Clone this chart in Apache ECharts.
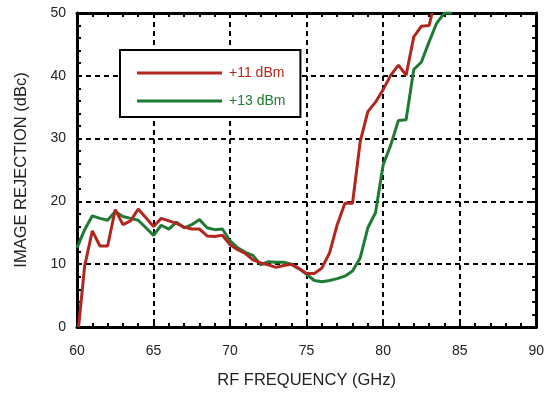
<!DOCTYPE html>
<html>
<head>
<meta charset="utf-8">
<script src="https://cdn.jsdelivr.net/npm/echarts@6/dist/echarts.min.js"></script>
<style>
html,body{margin:0;padding:0;background:#fff;}
#c{width:547px;height:394px;}
</style>
</head>
<body>
<div id="c"></div>
<script>
const seriesNames = ['+11 dBm', '+13 dBm'];
const seriesColors = ['#b1271f', '#1f7a35'];
const xTicks = [60, 65, 70, 75, 80, 85, 90];
const yTicks = [0, 10, 20, 30, 40, 50];

const red11 = [
  [60.1,0],[60.5,9.7],[61.0,15.3],[61.5,12.9],[62.0,12.9],[62.5,18.7],[63.0,16.3],[63.5,16.9],
  [64.0,18.8],[64.5,17.4],[65.0,16.0],[65.5,17.3],[66.0,16.9],[66.5,16.5],[67.0,15.9],[67.5,15.6],
  [68.0,15.6],[68.5,14.5],[69.0,14.4],[69.5,14.6],[70.0,13.1],[70.5,12.3],[71.0,11.7],[71.5,10.7],
  [72.0,10.2],[72.5,9.9],[73.0,9.5],[73.5,9.8],[74.0,10.0],[74.5,9.3],[75.0,8.5],[75.5,8.5],
  [76.0,9.4],[76.5,11.8],[77.0,16.3],[77.5,19.7],[78.0,19.7],[78.5,29.5],[79.0,34.3],[79.5,35.8],
  [80.0,37.8],[80.5,40.1],[81.0,41.7],[81.5,40.1],[82.0,46.2],[82.5,47.9],[83.0,48.0],[83.2,50]
];
const green13 = [
  [60.0,12.6],[60.5,15.5],[61.0,17.7],[61.5,17.3],[62.0,17.0],[62.5,18.4],[63.0,17.6],[63.5,17.3],
  [64.0,17.0],[64.5,15.8],[65.0,14.6],[65.5,16.2],[66.0,15.6],[66.5,16.7],[67.0,15.8],[67.5,16.3],
  [68.0,17.1],[68.5,15.8],[69.0,15.5],[69.5,15.6],[70.0,13.7],[70.5,12.6],[71.0,11.9],[71.5,11.4],
  [72.0,9.9],[72.5,10.4],[73.0,10.3],[73.5,10.3],[74.0,10.0],[74.5,9.3],[75.0,8.4],[75.5,7.4],
  [76.0,7.2],[76.5,7.4],[77.0,7.7],[77.5,8.1],[78.0,8.9],[78.5,11.0],[79.0,15.8],[79.5,18.2],
  [80.0,25.8],[80.5,29.0],[81.0,32.9],[81.5,33.0],[82.0,41.0],[82.5,42.2],[83.0,45.4],[83.5,48.4],
  [84.0,50],[84.5,50]
];

const FONT = '"Liberation Sans", Arial, Helvetica, sans-serif';
const chart = echarts.init(document.getElementById('c'), null, {renderer: 'canvas'});

const frameLine = {show: true, onZero: false, lineStyle: {color: '#000', width: 3}};
const tickIn = {show: true, inside: true, length: 5, lineStyle: {color: '#000', width: 2}};
const minorIn = {show: true, splitNumber: 5, length: 4, lineStyle: {color: '#000', width: 2}};

function baseX(extra) {
  return Object.assign({
    type: 'value', min: xTicks[0], max: xTicks[xTicks.length-1], interval: xTicks[1]-xTicks[0],
    axisLine: frameLine, axisTick: tickIn, minorTick: minorIn
  }, extra);
}
function baseY(extra) {
  return Object.assign({
    type: 'value', min: yTicks[0], max: yTicks[yTicks.length-1], interval: yTicks[1]-yTicks[0],
    axisLine: frameLine, axisTick: tickIn, minorTick: minorIn
  }, extra);
}

chart.setOption({
  animation: false,
  backgroundColor: '#fff',
  grid: {left: 77, right: 6, top: 13, bottom: 66, containLabel: false},
  legend: {
    orient: 'vertical', left: 120, top: 50,
    data: seriesNames.map((n, i) => ({name: n, textStyle: {color: seriesColors[i]}})),
    icon: 'rect',
    backgroundColor: '#fff', borderColor: '#000', borderWidth: 2,
    padding: [16, 15, 9, 17],
    itemWidth: 85, itemHeight: 3, itemGap: 14,
    textStyle: {fontFamily: FONT, fontSize: 14, padding: [0, 0, 0, 2]},
    selectedMode: false
  },
  xAxis: [
    baseX({
      position: 'bottom',
      name: 'RF FREQUENCY (GHz)', nameLocation: 'middle', nameGap: 45,
      nameTextStyle: {fontFamily: FONT, fontSize: 16.5, color: '#222'},
      axisLabel: {fontFamily: FONT, fontSize: 14, color: '#222', margin: 17},
      splitLine: {show: true, lineStyle: {color: '#000', width: 2, type: [5, 4]}}
    }),
    baseX({position: 'top', axisLabel: {show: false}, splitLine: {show: false}})
  ],
  yAxis: [
    baseY({
      position: 'left',
      name: 'IMAGE REJECTION (dBc)', nameLocation: 'middle', nameGap: 47, nameRotate: 90,
      nameTextStyle: {fontFamily: FONT, fontSize: 16.5, color: '#222'},
      axisLabel: {fontFamily: FONT, fontSize: 14, color: '#222', margin: 11},
      splitLine: {show: true, lineStyle: {color: '#000', width: 2, type: [5, 4]}}
    }),
    baseY({position: 'right', axisLabel: {show: false}, splitLine: {show: false}})
  ],
  series: [
    {name: seriesNames[0], type: 'line', data: red11, symbol: 'none', showSymbol: false,
     xAxisIndex: 0, yAxisIndex: 0, clip: true, color: seriesColors[0],
     lineStyle: {color: seriesColors[0], width: 3}, z: 3},
    {name: seriesNames[1], type: 'line', data: green13, symbol: 'none', showSymbol: false,
     xAxisIndex: 0, yAxisIndex: 0, clip: true, color: seriesColors[1],
     lineStyle: {color: seriesColors[1], width: 3}, z: 2}
  ]
});
</script>
</body>
</html>
